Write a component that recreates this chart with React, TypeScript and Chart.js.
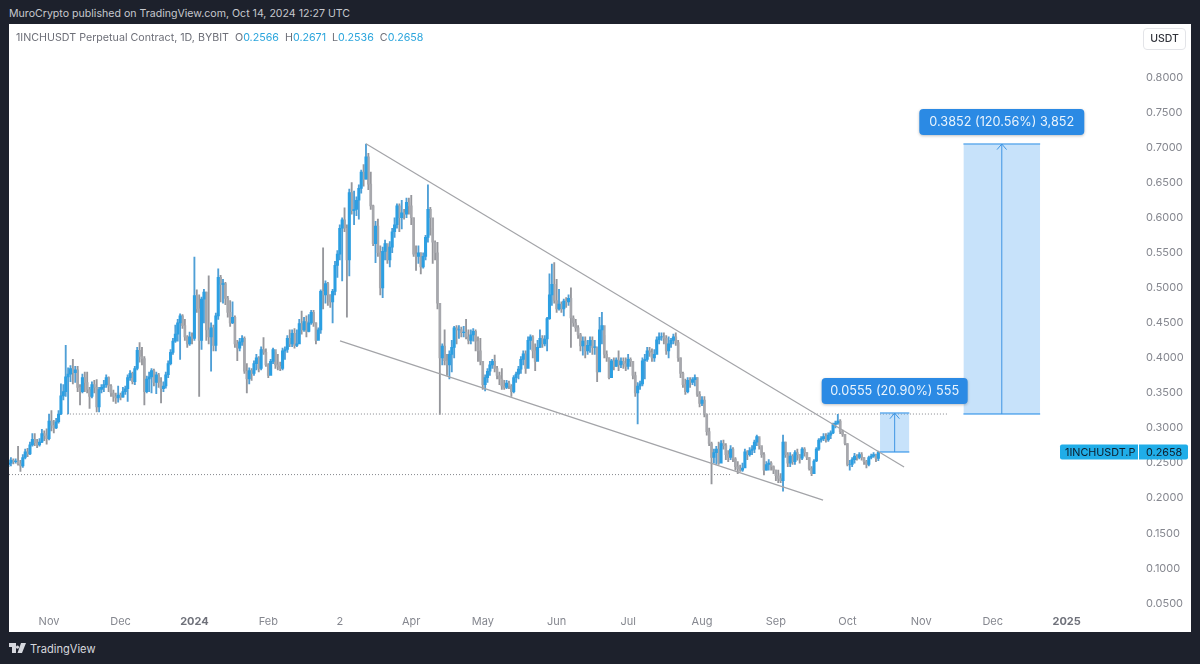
import React, { useEffect, useRef } from "react";
import Chart from "chart.js/auto";

// daily candles, index 0 = Oct 15 2023, open of a day = close of the day before
const closes = [
    .250, .254, .252, .253, .249, .246, .258, .266, .263, .276,
    .284, .279, .276, .280, .292, .289, .285, .310, .304, .300,
    .309, .320, .346, .352, .373, .377, .385, .379, .383, .358,
    .352, .372, .365, .355, .345, .362, .358, .330, .355, .358,
    .362, .372, .360, .350, .345, .343, .347, .344, .352, .356,
    .372, .378, .366, .385, .411, .402, .399, .352, .370, .373,
    .382, .365, .376, .365, .356, .360, .376, .392, .408, .424,
    .434, .450, .460, .446, .430, .420, .430, .428, .489, .470,
    .425, .484, .494, .440, .430, .443, .418, .460, .515, .505,
    .506, .485, .465, .450, .458, .420, .414, .423, .428, .381,
    .370, .382, .378, .392, .400, .385, .412, .408, .390, .375,
    .395, .412, .390, .388, .385, .410, .412, .428, .420, .435,
    .418, .420, .449, .440, .452, .438, .450, .465, .450, .425,
    .440, .495, .490, .506, .490, .480, .495, .532, .548, .585,
    .597, .585, .540, .636, .610, .612, .625, .642, .665, .655,
    .687, .648, .617, .563, .588, .550, .500, .552, .563, .540,
    .558, .580, .590, .617, .600, .607, .605, .622, .617, .600,
    .548, .545, .550, .530, .545, .572, .612, .600, .565, .550,
    .478, .400, .417, .396, .390, .405, .415, .443, .440, .440,
    .436, .437, .430, .425, .433, .438, .424, .410, .395, .362,
    .372, .381, .390, .395, .385, .375, .370, .360, .358, .364,
    .360, .352, .372, .377, .384, .398, .406, .385, .425, .430,
    .410, .395, .415, .428, .420, .427, .456, .490, .505, .482,
    .470, .477, .470, .481, .480, .485, .457, .450, .443, .433,
    .417, .424, .410, .418, .425, .415, .416, .380, .440, .446,
    .405, .400, .372, .396, .388, .397, .390, .395, .392, .388,
    .398, .395, .375, .350, .360, .363, .396, .398, .410, .408,
    .400, .405, .426, .430, .430, .428, .410, .420, .425, .430,
    .422, .400, .378, .362, .352, .368, .365, .369, .372, .348,
    .335, .340, .320, .295, .278, .258, .265, .270, .250, .278,
    .275, .262, .258, .270, .256, .245, .242, .240, .243, .266,
    .262, .268, .270, .280, .288, .275, .262, .240, .248, .250,
    .245, .240, .232, .228, .225, .280, .262, .250, .260, .252,
    .265, .262, .257, .270, .265, .258, .242, .235, .253, .270,
    .283, .285, .288, .283, .290, .293, .305, .307, .310, .295,
    .291, .278, .248, .248, .255, .260, .258, .262, .258, .252,
    .248, .258, .260, .262, .2566, .2658,
];

const highs = [
    .255, .258, .256, .256, .274, .254, .262, .270, .271, .280,
    .292, .292, .284, .285, .298, .296, .299, .320, .325, .311,
    .314, .325, .363, .362, .418, .386, .389, .398, .388, .388,
    .362, .377, .380, .380, .358, .366, .368, .369, .358, .362,
    .368, .376, .373, .362, .354, .350, .360, .350, .358, .360,
    .376, .382, .380, .388, .415, .422, .415, .402, .374, .380,
    .385, .384, .380, .378, .372, .366, .380, .396, .412, .428,
    .447, .455, .463, .462, .455, .432, .437, .436, .544, .497,
    .490, .487, .498, .494, .517, .450, .447, .464, .527, .518,
    .512, .508, .488, .482, .480, .460, .425, .428, .432, .430,
    .392, .386, .385, .396, .405, .402, .416, .429, .413, .392,
    .398, .414, .408, .405, .394, .414, .416, .432, .440, .440,
    .442, .440, .455, .467, .458, .460, .462, .468, .468, .450,
    .443, .497, .557, .510, .508, .490, .498, .538, .553, .590,
    .600, .614, .590, .641, .650, .638, .630, .647, .668, .676,
    .705, .692, .665, .618, .595, .598, .560, .558, .568, .560,
    .566, .585, .600, .620, .620, .625, .612, .628, .628, .632,
    .600, .560, .560, .550, .550, .575, .647, .615, .585, .567,
    .565, .478, .420, .440, .405, .410, .425, .445, .446, .446,
    .444, .445, .455, .440, .440, .442, .440, .430, .428, .395,
    .376, .385, .395, .398, .404, .388, .380, .385, .368, .368,
    .367, .362, .375, .380, .388, .402, .410, .410, .430, .433,
    .432, .420, .425, .440, .432, .432, .458, .520, .534, .536,
    .512, .498, .480, .484, .486, .490, .500, .460, .455, .446,
    .435, .430, .430, .425, .430, .430, .425, .415, .458, .465,
    .432, .410, .400, .398, .400, .400, .410, .400, .400, .400,
    .405, .400, .390, .380, .365, .367, .400, .405, .415, .415,
    .413, .412, .430, .436, .436, .436, .432, .430, .428, .434,
    .436, .425, .400, .380, .370, .372, .372, .372, .376, .372,
    .352, .345, .345, .320, .300, .280, .270, .274, .280, .282,
    .283, .278, .268, .275, .272, .258, .252, .247, .250, .270,
    .268, .272, .275, .283, .290, .285, .272, .265, .252, .255,
    .252, .246, .240, .240, .235, .290, .280, .265, .265, .262,
    .268, .270, .262, .272, .272, .265, .258, .245, .255, .272,
    .285, .288, .292, .292, .293, .296, .307, .310, .3195, .312,
    .297, .291, .278, .254, .258, .264, .262, .265, .265, .258,
    .254, .260, .263, .265, .263, .2671,
];

const lows = [
    .245, .246, .249, .250, .247, .238, .244, .256, .259, .262,
    .274, .275, .272, .274, .279, .282, .277, .283, .296, .293,
    .299, .307, .319, .340, .345, .320, .366, .363, .365, .352,
    .333, .350, .352, .350, .328, .343, .350, .323, .323, .350,
    .352, .358, .352, .345, .338, .335, .337, .340, .344, .348,
    .338, .368, .363, .362, .383, .394, .390, .333, .350, .352,
    .350, .360, .349, .358, .336, .352, .357, .372, .390, .405,
    .422, .424, .398, .442, .425, .415, .418, .420, .425, .465,
    .345, .412, .450, .425, .420, .381, .410, .410, .455, .480,
    .478, .476, .458, .445, .449, .415, .396, .410, .418, .378,
    .350, .363, .368, .375, .383, .380, .383, .405, .388, .372,
    .376, .392, .385, .383, .382, .383, .398, .408, .416, .416,
    .414, .416, .430, .434, .438, .430, .437, .448, .445, .420,
    .428, .435, .470, .478, .475, .472, .450, .490, .515, .540,
    .510, .580, .458, .517, .605, .590, .603, .598, .635, .645,
    .655, .640, .612, .560, .536, .545, .490, .486, .540, .535,
    .530, .550, .572, .585, .580, .584, .598, .600, .605, .590,
    .545, .525, .535, .520, .528, .540, .565, .575, .535, .540,
    .470, .3195, .390, .390, .375, .370, .380, .400, .420, .428,
    .430, .430, .427, .420, .420, .424, .410, .395, .390, .355,
    .353, .365, .375, .385, .380, .370, .362, .355, .355, .356,
    .356, .345, .350, .365, .370, .378, .390, .378, .400, .412,
    .400, .382, .405, .415, .415, .417, .410, .455, .475, .478,
    .465, .468, .465, .460, .472, .475, .415, .445, .438, .428,
    .410, .404, .400, .405, .408, .405, .405, .366, .400, .420,
    .400, .395, .370, .385, .383, .388, .382, .386, .385, .382,
    .384, .388, .370, .345, .306, .355, .360, .370, .395, .402,
    .395, .395, .410, .420, .425, .420, .405, .400, .415, .420,
    .418, .395, .372, .358, .348, .350, .358, .362, .360, .345,
    .330, .332, .316, .290, .275, .2204, .250, .248, .248, .272,
    .270, .255, .252, .255, .252, .240, .235, .238, .238, .246,
    .255, .260, .262, .265, .275, .270, .258, .233, .240, .240,
    .240, .235, .225, .222, .222, .210, .258, .245, .245, .248,
    .248, .254, .250, .255, .260, .255, .240, .232, .235, .252,
    .268, .280, .282, .280, .281, .285, .292, .300, .305, .292,
    .288, .276, .246, .240, .245, .250, .254, .256, .254, .248,
    .243, .246, .256, .258, .252, .2536,
];

const priceTicks = [.05, .1, .15, .2, .25, .3, .35, .4, .45, .5, .55, .6, .65, .7, .75, .8];
const timeTickDays = [17, 47, 78, 109, 139, 169, 199, 230, 260, 291, 322, 352, 383, 413, 444];
const timeTickLabels = ["Nov", "Dec", "2024", "Feb", "2", "Apr", "May", "Jun", "Jul", "Aug", "Sep", "Oct", "Nov", "Dec", "2025"];
const yearLabels = ["2024", "2025"];

const lastPrice = 0.2658;
const upperTrend = [{ x: 150, y: .7057 }, { x: 375.8, y: .2445 }];
const lowerTrend = [{ x: 139.1, y: .4243 }, { x: 341.8, y: .1971 }];
const resistance = [{ x: 24.5, y: .32 }, { x: 393.8, y: .32 }];
const support = [{ x: .2, y: .2336 }, { x: 302.8, y: .2336 }];

const FONT = "Inter";
const UP = "#2c9fe2";
const DOWN = "#a7a8ad";
const UP_WICK = "#4f9fd6";
const DOWN_WICK = "#96979c";

const opens = closes.map((c, i) => (i == 0 ? 0.248 : closes[i - 1]));
const isUp = closes.map((c, i) => c >= opens[i]);
const bodies = closes.map((c, i) => ({ x: i, y: [opens[i], c] }));

// blue measure box with arrow and a label on top
const measures = [
    { from: 365.7, to: 378, low: lastPrice, high: .3213, label: "0.0555 (20.90%) 555", width: 146 },
    { from: 400.7, to: 432.9, low: .32, high: .7052, label: "0.3852 (120.56%) 3,852", width: 165 },
];

const measureDatasets = measures.flatMap((m) => {
    const mid = (m.from + m.to) / 2;
    const line = { type: "line", pointRadius: 0, borderColor: "#64aeee", borderWidth: 1.5, order: 5 };
    const arrow = { type: "line", pointRadius: 0, borderColor: "#3f96e4", borderWidth: 1, order: 4 };
    return [
        {
            ...line,
            data: [{ x: m.from, y: m.high }, { x: m.to, y: m.high }],
            fill: { value: m.low },
            backgroundColor: "rgba(33, 140, 235, 0.25)",
        },
        { ...line, data: [{ x: m.from, y: m.low }, { x: m.to, y: m.low }] },
        { ...arrow, data: [{ x: mid, y: m.low }, { x: mid, y: m.high }] },
        {
            ...arrow,
            data: [
                { x: mid - 2, y: m.high - 0.008 },
                { x: mid, y: m.high },
                { x: mid + 2, y: m.high - 0.008 },
            ],
        },
    ];
});

const labelsPlugin = {
    id: "labels",
    afterDraw(chart: any) {
        const { ctx, scales } = chart;
        ctx.save();
        ctx.textBaseline = "middle";

        measures.forEach((m) => {
            const cx = scales.x.getPixelForValue((m.from + m.to) / 2);
            const bottom = scales.y.getPixelForValue(m.high) - 9;
            ctx.save();
            ctx.shadowColor = "rgba(0, 0, 0, 0.25)";
            ctx.shadowBlur = 3;
            ctx.shadowOffsetY = 1;
            ctx.fillStyle = "#2b8ae4";
            ctx.beginPath();
            ctx.roundRect(cx - m.width / 2, bottom - 26, m.width, 26, 4);
            ctx.fill();
            ctx.restore();
            ctx.fillStyle = "#eaf4fd";
            ctx.font = `12.7px ${FONT}`;
            ctx.textAlign = "center";
            ctx.fillText(m.label, cx, bottom - 12.5);
        });

        // last price tag, sits over the price axis
        const right = chart.chartArea.right;
        const y = scales.y.getPixelForValue(lastPrice);
        ctx.fillStyle = "#20ade8";
        ctx.beginPath();
        ctx.roundRect(right - 70, y - 7.5, 78, 15, [2, 0, 0, 2]);
        ctx.fill();
        ctx.beginPath();
        ctx.roundRect(right + 9, y - 7.5, 49, 15, [0, 2, 2, 0]);
        ctx.fill();
        ctx.fillStyle = "#0e1c2a";
        ctx.font = `10.8px ${FONT}`;
        ctx.textAlign = "left";
        ctx.fillText("1INCHUSDT.P", right - 65, y + 0.5);
        ctx.fillText(lastPrice.toFixed(4), right + 16, y + 0.5);
        ctx.restore();
    },
};

const CandleChart = () => {
    const chartRef = useRef<HTMLCanvasElement>(null);

    useEffect(() => {
        if (chartRef.current != null) {
            const chart = new Chart(chartRef.current, {
                type: "bar",
                data: {
                    datasets: [
                        // up bodies go over the down ones, the blue reads stronger in the original
                        {
                            data: bodies.filter((b, i) => isUp[i]),
                            backgroundColor: UP,
                            barThickness: 2.4,
                            grouped: false,
                            order: 2,
                        },
                        {
                            data: bodies.filter((b, i) => !isUp[i]),
                            backgroundColor: DOWN,
                            barThickness: 2,
                            grouped: false,
                            order: 2.5,
                        },
                        {
                            data: highs.map((h, i) => ({ x: i, y: [lows[i], h] })),
                            backgroundColor: closes.map((c, i) => (isUp[i] ? UP_WICK : DOWN_WICK)),
                            barThickness: 1.2,
                            grouped: false,
                            order: 3,
                        },
                        { type: "line", data: upperTrend, borderColor: "#a3a4a8", borderWidth: 1.2, pointRadius: 0, order: 1 },
                        { type: "line", data: lowerTrend, borderColor: "#a3a4a8", borderWidth: 1.2, pointRadius: 0, order: 1 },
                        { type: "line", data: resistance, borderColor: "#85878d", borderWidth: 1, borderDash: [1, 2], pointRadius: 0, order: 6 },
                        { type: "line", data: support, borderColor: "#85878d", borderWidth: 1, borderDash: [1, 2], pointRadius: 0, order: 6 },
                        ...measureDatasets,
                    ] as any,
                },
                options: {
                    responsive: false,
                    animation: false,
                    layout: { padding: 0, autoPadding: false },
                    scales: {
                        x: {
                            type: "linear",
                            offset: false,
                            min: 0.2,
                            max: 470.6,
                            grid: { display: false, offset: false, drawTicks: false },
                            border: { display: false },
                            afterBuildTicks: (axis: any) => {
                                axis.ticks = timeTickDays.map((value) => ({ value }));
                            },
                            afterFit: (axis: any) => {
                                axis.height = 24;
                            },
                            ticks: {
                                autoSkip: false,
                                maxRotation: 0,
                                padding: 7,
                                callback: (value: any) => timeTickLabels[timeTickDays.indexOf(value)],
                                color: (c: any) => (yearLabels.includes(c.tick?.label) ? "#6f717a" : "#85878f"),
                                font: (c: any) => ({
                                    family: FONT,
                                    size: 11,
                                    weight: yearLabels.includes(c.tick?.label) ? "700" : "400",
                                }),
                            },
                        },
                        y: {
                            position: "right",
                            min: 0.04329,
                            max: 0.84414,
                            grid: { display: false, drawTicks: false },
                            border: { display: false },
                            afterBuildTicks: (axis: any) => {
                                axis.ticks = priceTicks.map((value) => ({ value }));
                            },
                            afterFit: (axis: any) => {
                                axis.width = 61;
                            },
                            ticks: {
                                padding: 16,
                                callback: (value: any) => Number(value).toFixed(4),
                                color: "#85878f",
                                font: { family: FONT, size: 11 },
                            },
                        },
                    },
                    plugins: {
                        legend: { display: false },
                        tooltip: { enabled: false },
                    },
                },
                plugins: [labelsPlugin],
            } as any);

            return () => {
                chart.destroy();
            };
        }
    }, []);

    return <canvas ref={chartRef} width={1182} height={608} style={{ position: "absolute", left: 0, top: 0, display: "block" }} />;
};

const blue = { color: "#2ba5dc" };

const App = () => {
    return (
        <div style={{ position: "fixed", left: 0, top: 0, width: 1200, height: 664, background: "#1d212c", fontFamily: FONT, overflow: "hidden" }}>
            <div style={{ position: "absolute", left: 9, top: 6, fontSize: 10.6, lineHeight: "16px", color: "#c6c8ce", whiteSpace: "nowrap" }}>
                MuroCrypto published on TradingView.com, Oct 14, 2024 12:27 UTC
            </div>
            <div style={{ position: "absolute", left: 9, top: 24, width: 1182, height: 608, background: "#ffffff" }}>
                <CandleChart />
                <div style={{ position: "absolute", left: 7, top: 6, fontSize: 10.7, lineHeight: "15px", color: "#6d6f78", whiteSpace: "nowrap" }}>
                    1INCHUSDT Perpetual Contract, 1D, BYBIT
                    <span style={{ marginLeft: 6 }}>O<span style={blue}>0.2566</span></span>
                    <span style={{ marginLeft: 6 }}>H<span style={blue}>0.2671</span></span>
                    <span style={{ marginLeft: 6 }}>L<span style={blue}>0.2536</span></span>
                    <span style={{ marginLeft: 6 }}>C<span style={blue}>0.2658</span></span>
                </div>
                <div style={{ position: "absolute", left: 1134, top: 4, width: 43, height: 22, boxSizing: "border-box", border: "1px solid #e3e4e8", borderRadius: 4, fontSize: 10.5, fontWeight: 500, lineHeight: "20px", textAlign: "center", color: "#30323a" }}>
                    USDT
                </div>
            </div>
            <svg style={{ position: "absolute", left: 9, top: 643 }} width={17} height={10} viewBox="0 0 17 10">
                <path d="M0 0H7V10H3V4H0Z M8.5 2.6a1.6 1.6 0 1 0 0.01 0Z M12 0H17L13 10H8.5Z" fill="#d6d8de" />
            </svg>
            <div style={{ position: "absolute", left: 30, top: 641, fontSize: 11.1, lineHeight: "16px", color: "#d6d8de", whiteSpace: "nowrap" }}>
                TradingView
            </div>
        </div>
    );
};

export default App;
